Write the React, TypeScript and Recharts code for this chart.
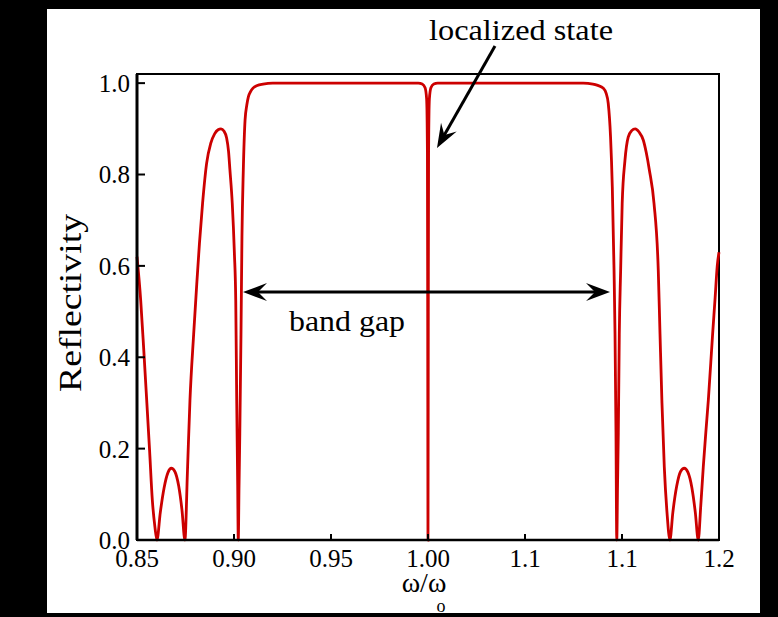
import { LineChart, Line, XAxis, YAxis, ReferenceArea } from "recharts";

// normalized frequency w/w0
const frequency = [
  0.85, 0.8519, 0.8535, 0.855, 0.8565, 0.8579, 0.8592, 0.8603, 0.862, 0.864,
  0.866, 0.8677, 0.8695, 0.8715, 0.8732, 0.8747, 0.876, 0.8773, 0.8792, 0.8808,
  0.8822, 0.8838, 0.8859, 0.888, 0.89, 0.8918, 0.8933, 0.8948, 0.8962, 0.8972,
  0.8979, 0.8991, 0.9002, 0.9009, 0.9014, 0.9019, 0.9022, 0.9026, 0.903, 0.9036,
  0.9041, 0.9048, 0.9057, 0.9066, 0.9074, 0.9086, 0.9098, 0.912, 0.915, 0.92,
  0.95, 0.98, 0.995, 0.997, 0.9985, 0.9993, 0.9997, 0.99985, 1.0, 1.00015,
  1.0003, 1.0007, 1.0015, 1.003, 1.005, 1.02, 1.05, 1.08, 1.085, 1.0875,
  1.0904, 1.0918, 1.0929, 1.0941, 1.095, 1.0959, 1.0964, 1.0969, 1.0973, 1.0977,
  1.0981, 1.0986, 1.0993, 1.1001, 1.1015, 1.1032, 1.105, 1.1068, 1.1088, 1.111,
  1.1125, 1.1141, 1.1165, 1.1187, 1.1196, 1.1206, 1.1218, 1.1232, 1.1247, 1.1262,
  1.1282, 1.1302, 1.1321, 1.134, 1.136, 1.1378, 1.1393, 1.1406, 1.1419, 1.1432,
  1.1445, 1.1467, 1.148, 1.1491, 1.15,
];

const reflectivity = [
  0.62, 0.525, 0.415, 0.306, 0.195, 0.0875, 0.03, 0.0, 0.06, 0.115,
  0.148, 0.157, 0.15, 0.118, 0.065, 0.0, 0.15, 0.306, 0.45, 0.56,
  0.65, 0.737, 0.825, 0.868, 0.889, 0.898, 0.9, 0.895, 0.88, 0.85,
  0.81, 0.737, 0.628, 0.525, 0.306, 0.12, 0.0, 0.12, 0.234, 0.45,
  0.663, 0.81, 0.919, 0.952, 0.97, 0.982, 0.989, 0.995, 0.998, 1.0,
  1.0, 1.0, 1.0, 0.998, 0.99, 0.965, 0.85, 0.5, 0.0, 0.5,
  0.85, 0.965, 0.99, 0.998, 1.0, 1.0, 1.0, 1.0, 0.998, 0.995,
  0.989, 0.978, 0.956, 0.882, 0.773, 0.59, 0.452, 0.234, 0.0, 0.12,
  0.234, 0.45, 0.59, 0.737, 0.83, 0.882, 0.896, 0.9, 0.893, 0.875,
  0.848, 0.81, 0.737, 0.59, 0.45, 0.3, 0.16, 0.06, 0.0, 0.06,
  0.118, 0.15, 0.157, 0.148, 0.115, 0.06, 0.0, 0.075, 0.16, 0.235,
  0.306, 0.45, 0.53, 0.6, 0.63,
];

const xTicks = [0.85, 0.9, 0.95, 1.0, 1.05, 1.1, 1.15];
const xTickLabels = ["0.85", "0.90", "0.95", "1.00", "1.1", "1.1", "1.2"];
const yTicks = [0, 0.2, 0.4, 0.6, 0.8, 1.0];
const yTickLabels = ["0.0", "0.2", "0.4", "0.6", "0.8", "1.0"];

const data = frequency.map((f, i) => ({ f, r: reflectivity[i] }));

const serif = "'Liberation Serif', 'Times New Roman', serif";
const tickStyle = { fill: "#000", fontSize: 25, fontFamily: serif };

const labelFor = (ticks: number[], labels: string[]) => (v: number) => {
  const i = ticks.findIndex((t) => Math.abs(t - v) < 1e-6);
  return i >= 0 ? labels[i] : String(v);
};

const ArrowHead = ({ x, y, angle }: { x: number; y: number; angle: number }) => (
  <path
    d="M0,0 L-24,-9 L-15,0 L-24,9 Z"
    fill="#000"
    transform={`translate(${x},${y}) rotate(${angle})`}
  />
);

const Annotations = () => {
  const from = { x: 495, y: 46 };
  const tip = { x: 437, y: 148 };
  const ang = (Math.atan2(tip.y - from.y, tip.x - from.x) * 180) / Math.PI;
  const rad = (ang * Math.PI) / 180;
  return (
    <svg
      width={778}
      height={617}
      style={{ position: "absolute", left: 0, top: 0, pointerEvents: "none" }}
    >
      <text x={521} y={40} fontSize={30} fontFamily={serif} textAnchor="middle" textLength={184} lengthAdjust="spacingAndGlyphs">
        localized state
      </text>
      <line
        x1={from.x}
        y1={from.y}
        x2={tip.x - 12 * Math.cos(rad)}
        y2={tip.y - 12 * Math.sin(rad)}
        stroke="#000"
        strokeWidth={3}
      />
      <ArrowHead x={tip.x} y={tip.y} angle={ang} />

      <line x1={253} y1={292} x2={600} y2={292} stroke="#000" strokeWidth={2.8} />
      <ArrowHead x={243} y={292} angle={180} />
      <ArrowHead x={610} y={292} angle={0} />
      <text x={289} y={331} fontSize={30} fontFamily={serif} textLength={116} lengthAdjust="spacingAndGlyphs">
        band gap
      </text>

      <text
        x={81}
        y={303}
        fontSize={32}
        fontFamily={serif}
        textAnchor="middle"
        textLength={178}
        lengthAdjust="spacingAndGlyphs"
        transform="rotate(-90 81 303)"
      >
        Reflectivity
      </text>
      <text x={424} y={592} fontSize={28} fontFamily={serif} textAnchor="middle">
        ω/ω
      </text>
      <text x={441} y={612} fontSize={18} fontFamily={serif} textAnchor="middle">
        o
      </text>
    </svg>
  );
};

export default function App() {
  return (
    <div
      style={{
        position: "absolute",
        left: 0,
        top: 0,
        width: 778,
        height: 617,
        background: "#000",
      }}
    >
      <div
        style={{
          position: "absolute",
          left: 47,
          top: 9,
          width: 713,
          height: 604,
          background: "#fff",
        }}
      />
      <div style={{ position: "absolute", left: 0, top: 0 }}>
        <LineChart
          width={778}
          height={617}
          data={data}
          margin={{ top: 74, right: 59, bottom: 37, left: 77 }}
        >
          <ReferenceArea
            x1={0.85}
            x2={1.15}
            y1={0}
            y2={1.02}
            fill="none"
            stroke="#000"
            strokeWidth={2}
            fillOpacity={0}
          />
          <XAxis
            dataKey="f"
            type="number"
            domain={[0.85, 1.15]}
            ticks={xTicks}
            interval={0}
            tickFormatter={labelFor(xTicks, xTickLabels)}
            height={40}
            tickSize={-6}
            tickMargin={15}
            tick={tickStyle}
            axisLine={{ stroke: "#000", strokeWidth: 2.5 }}
            tickLine={{ stroke: "#000", strokeWidth: 2 }}
          />
          <YAxis
            type="number"
            domain={[0, 1.02]}
            ticks={yTicks}
            interval={0}
            tickFormatter={labelFor(yTicks, yTickLabels)}
            width={60}
            tickSize={-8}
            tickMargin={15}
            tick={tickStyle}
            axisLine={{ stroke: "#000", strokeWidth: 3 }}
            tickLine={{ stroke: "#000", strokeWidth: 2 }}
          />
          <Line
            dataKey="r"
            type="monotone"
            stroke="#cc0000"
            strokeWidth={2.8}
            dot={false}
            isAnimationActive={false}
          />
        </LineChart>
      </div>
      <Annotations />
    </div>
  );
}
